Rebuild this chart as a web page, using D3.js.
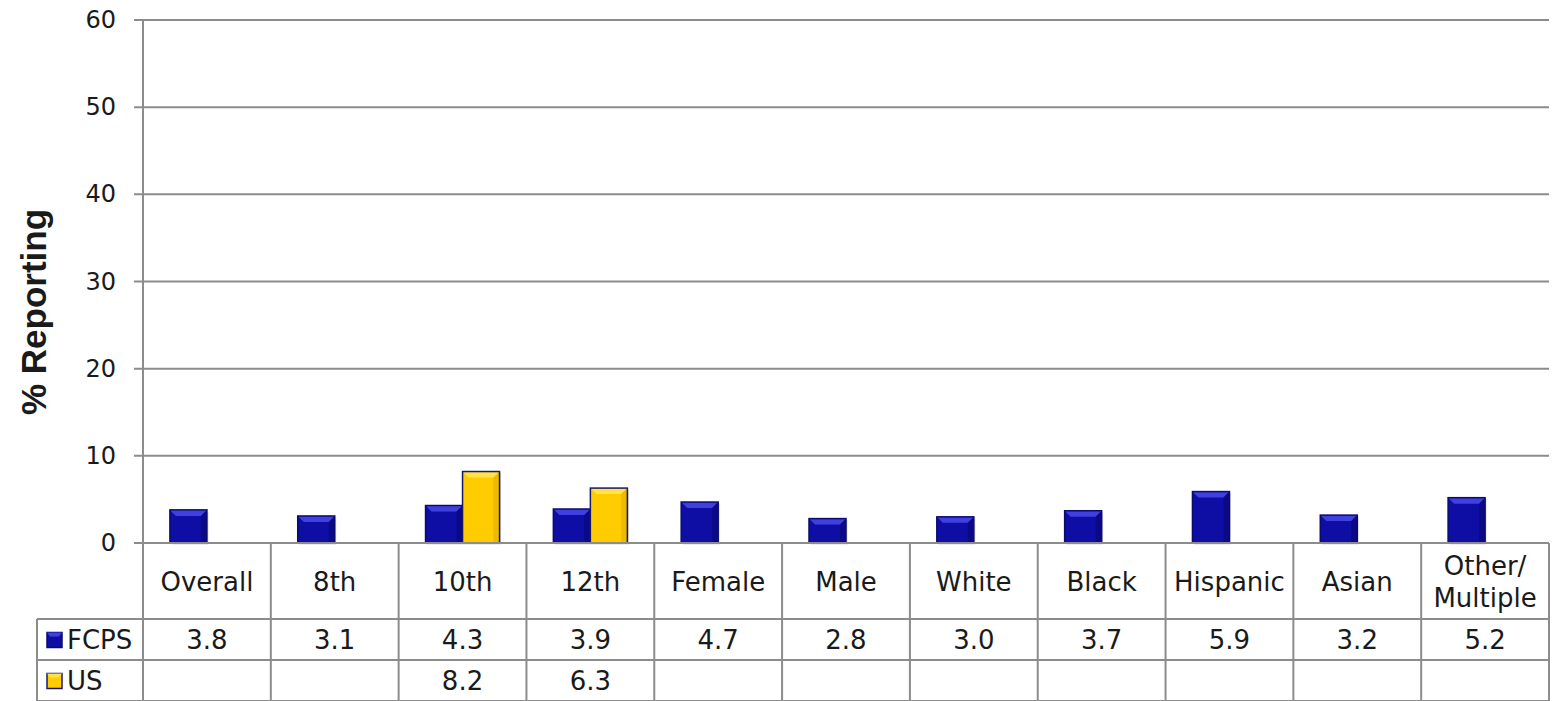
<!DOCTYPE html>
<meta charset="utf-8">
<script src="https://d3js.org/d3.v7.min.js"></script>
<style>
body { margin: 0; background: #fff; }
text { font-family: "DejaVu Sans", sans-serif; fill: #1a1a1a; }
</style>
<div id="chart"></div>
<script>
// data
var categories = ["Overall", "8th", "10th", "12th", "Female", "Male", "White", "Black", "Hispanic", "Asian", "Other/\nMultiple"];
var series = ["FCPS", "US"];
var fcps = [3.8, 3.1, 4.3, 3.9, 4.7, 2.8, 3.0, 3.7, 5.9, 3.2, 5.2];
var us = [null, null, 8.2, 6.3, null, null, null, null, null, null, null];
var yTicks = [0, 10, 20, 30, 40, 50, 60];

var W = 1557, H = 701;
var plotLeft = 143, plotRight = 1549, plotTop = 20, plotBottom = 543;
var rowH = [76, 41, 41];
var legendLeft = 37;
var gridCol = "#8c8c8c";

var svg = d3.select("#chart").append("svg")
  .attr("width", W).attr("height", H);

var x = d3.scaleBand().domain(categories).range([plotLeft, plotRight]);
var y = d3.scaleLinear().domain([0, 60]).range([plotBottom, plotTop]);
var colors = { FCPS: { fill: "#0e0ea4", light: "#4040e0", dark: "#06066a", stroke: "#0a0a70" },
               US: { fill: "#ffcc00", light: "#ffe24a", dark: "#d9a800", stroke: "#1a1a6a" } };

// gridlines + ticks
svg.append("g").selectAll("line").data(yTicks).enter().append("line")
  .attr("x1", plotLeft - 9).attr("x2", plotRight)
  .attr("y1", function(d){ return y(d); }).attr("y2", function(d){ return y(d); })
  .style("stroke", gridCol).style("stroke-width", 2);

svg.append("g").selectAll("text").data(yTicks).enter().append("text")
  .attr("x", 116).attr("y", function(d){ return y(d); })
  .attr("text-anchor", "end").attr("dominant-baseline", "central")
  .style("font-size", "24px").text(function(d){ return d; });

svg.append("line").attr("x1", plotLeft).attr("x2", plotLeft).attr("y1", plotTop).attr("y2", plotBottom)
  .style("stroke", gridCol).style("stroke-width", 2);

// y title
svg.append("text")
  .attr("transform", "translate(33,312) rotate(-90)")
  .attr("text-anchor", "middle").attr("dominant-baseline", "central")
  .style("font-family", "Liberation Sans, Arial, sans-serif")
  .style("font-weight", "bold").style("font-size", "35px")
  .text("% Reporting");

// bars
var barW = 37;
function bevelBar(g, x0, y0, w, h, c) {
  var b = Math.min(6, h / 2);
  g.append("rect").attr("x", x0 + 1.5).attr("y", y0 + 1.5).attr("width", w).attr("height", h)
    .style("fill", "#999").style("opacity", 0.35);
  g.append("rect").attr("x", x0).attr("y", y0).attr("width", w).attr("height", h)
    .style("fill", c.fill);
  g.append("polygon").attr("points", [[x0, y0], [x0 + w, y0], [x0 + w - b, y0 + b], [x0 + b, y0 + b]].join(" "))
    .style("fill", c.light);
  g.append("polygon").attr("points", [[x0 + w, y0], [x0 + w - b, y0 + b], [x0 + w - b, y0 + h], [x0 + w, y0 + h]].join(" "))
    .style("fill", c.dark).style("opacity", 0.5);
  g.append("rect").attr("x", x0).attr("y", y0).attr("width", w).attr("height", h)
    .style("fill", "none").style("stroke", c.stroke).style("stroke-width", 1.5);
}

var bars = svg.append("g");
categories.forEach(function(cat, i) {
  var cx = x(cat) + x.bandwidth() / 2;
  if (fcps[i] != null) bevelBar(bars, cx - barW, y(fcps[i]), barW, y(0) - y(fcps[i]), colors.FCPS);
  if (us[i] != null) bevelBar(bars, cx, y(us[i]), barW, y(0) - y(us[i]), colors.US);
});

// re-draw baseline above shadows
svg.append("line").attr("x1", plotLeft - 9).attr("x2", plotRight).attr("y1", y(0)).attr("y2", y(0))
  .style("stroke", gridCol).style("stroke-width", 2);

// data table
var t = svg.append("g");
var r1 = plotBottom + rowH[0], r2 = r1 + rowH[1], r3 = r2 + rowH[2];
var bounds = categories.map(function(c){ return x(c); }).concat([plotRight]);
t.selectAll("line.v").data(bounds).enter().append("line")
  .attr("x1", function(d){ return d; }).attr("x2", function(d){ return d; })
  .attr("y1", plotBottom).attr("y2", r3)
  .style("stroke", gridCol).style("stroke-width", 2);
t.append("line").attr("x1", legendLeft).attr("x2", legendLeft).attr("y1", r1).attr("y2", r3)
  .style("stroke", gridCol).style("stroke-width", 2);
[r1, r2, r3].forEach(function(ry) {
  t.append("line").attr("x1", legendLeft).attr("x2", plotRight).attr("y1", ry).attr("y2", ry)
    .style("stroke", gridCol).style("stroke-width", 2);
});

// header labels
categories.forEach(function(cat) {
  var lines = cat.split("\n");
  var cx = x(cat) + x.bandwidth() / 2;
  var cy = plotBottom + rowH[0] / 2 + 1;
  lines.forEach(function(l, k) {
    t.append("text").attr("x", cx).attr("y", cy + (k - (lines.length - 1) / 2) * 32)
      .attr("text-anchor", "middle").attr("dominant-baseline", "central")
      .style("font-size", "26px").text(l);
  });
});

// value rows
var rows = [fcps, us];
rows.forEach(function(vals, ri) {
  var cy = (ri === 0 ? r1 : r2) + rowH[1] / 2;
  vals.forEach(function(v, i) {
    if (v == null) return;
    t.append("text").attr("x", x(categories[i]) + x.bandwidth() / 2).attr("y", cy)
      .attr("text-anchor", "middle").attr("dominant-baseline", "central")
      .style("font-size", "26px").text(v.toFixed(1));
  });
  var key = series[ri];
  t.append("rect").attr("x", 47).attr("y", cy - 7).attr("width", 15).attr("height", 15)
    .style("fill", colors[key].fill).style("stroke", colors[key].stroke).style("stroke-width", 1.5);
  t.append("polygon").attr("points", [[47, cy - 7], [62, cy - 7], [59, cy - 3], [50, cy - 3]].join(" "))
    .style("fill", colors[key].light);
  t.append("text").attr("x", 67).attr("y", cy)
    .attr("dominant-baseline", "central").style("font-size", "26px").text(key);
});
</script>
